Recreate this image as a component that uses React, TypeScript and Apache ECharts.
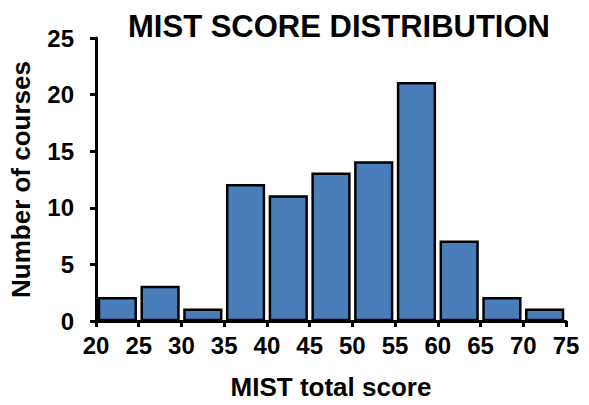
import React, { useEffect, useRef } from "react";
import * as echarts from "echarts";

const binStarts = [20, 25, 30, 35, 40, 45, 50, 55, 60, 65, 70];
const binWidth = 5;
const counts = [2, 3, 1, 12, 11, 13, 14, 21, 7, 2, 1];
const yTicks = [0, 5, 10, 15, 20, 25];
const xTicks = [20, 25, 30, 35, 40, 45, 50, 55, 60, 65, 70, 75];

const FONT = "'Liberation Sans', Arial, sans-serif";

export default function App() {
  const ref = useRef<HTMLDivElement>(null);
  useEffect(() => {
    if (!ref.current) return;
    const chart = echarts.init(ref.current, null, { renderer: "svg" });
    const data = binStarts.map((s, i) => [s, s + binWidth, counts[i]]);
    chart.setOption({
      animation: false,
      backgroundColor: "#ffffff",
      graphic: [
        {
          type: "text",
          x: 339,
          y: 11,
          style: {
            text: "MIST SCORE DISTRIBUTION",
            font: `bold 31px ${FONT}`,
            fill: "#000",
            textAlign: "center",
            textVerticalAlign: "top",
          },
        },
      ],
      grid: { left: 96, width: 470, top: 38, height: 290, containLabel: false },
      xAxis: {
        type: "value",
        min: xTicks[0],
        max: xTicks[xTicks.length - 1],
        interval: 5,
        name: "MIST total score",
        nameLocation: "middle",
        nameGap: 53,
        nameTextStyle: { fontFamily: FONT, fontWeight: "bold", fontSize: 26, color: "#000" },
        axisLine: { show: true, onZero: false, lineStyle: { color: "#000", width: 3 } },
        axisTick: { show: true, inside: false, length: 6, lineStyle: { color: "#000", width: 3 } },
        axisLabel: { fontFamily: FONT, fontWeight: "bold", fontSize: 24, color: "#000", margin: 12 },
        splitLine: { show: false },
      },
      yAxis: {
        type: "value",
        min: yTicks[0],
        max: yTicks[yTicks.length - 1],
        interval: 5,
        name: "Number of courses",
        nameLocation: "middle",
        nameGap: 62,
        nameRotate: 90,
        nameTextStyle: { fontFamily: FONT, fontWeight: "bold", fontSize: 26, color: "#000" },
        axisLine: { show: true, lineStyle: { color: "#000", width: 3 } },
        axisTick: { show: true, inside: false, length: 6, lineStyle: { color: "#000", width: 3 } },
        axisLabel: { fontFamily: FONT, fontWeight: "bold", fontSize: 24, color: "#000", margin: 22 },
        splitLine: { show: false },
      },
      series: [
        {
          type: "custom",
          data,
          encode: { x: [0, 1], y: 2 },
          renderItem: (params: any, api: any) => {
            const start = api.value(0);
            const end = api.value(1);
            const v = api.value(2);
            const p0 = api.coord([start, v]);
            const p1 = api.coord([end, 0]);
            const inset = 3;
            return {
              type: "rect",
              shape: {
                x: p0[0] + inset,
                y: p0[1],
                width: p1[0] - p0[0] - inset * 2,
                height: p1[1] - p0[1] - 1,
              },
              style: { fill: "#4a7ebb", stroke: "#000", lineWidth: 2.5 },
            };
          },
          z: 1,
        },
      ],
    });
    return () => chart.dispose();
  }, []);
  return <div ref={ref} style={{ width: 589, height: 405, position: "absolute", left: 0, top: 0 }} />;
}
